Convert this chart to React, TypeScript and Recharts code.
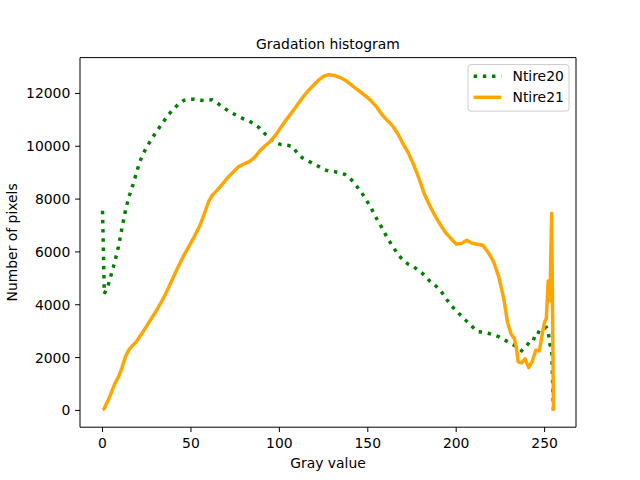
import * as React from "react";
import { LineChart, Line, XAxis, YAxis, ReferenceArea } from "recharts";

// gray levels
const grayValues = [
  0, 1, 2, 3, 5, 7, 9, 11, 13, 15,
  17, 19, 21, 23, 25, 28, 31, 34, 37, 40,
  43, 46, 49, 52, 55, 58, 60, 62, 65, 68,
  71, 74, 77, 80, 83, 86, 89, 92, 95, 98,
  101, 104, 107, 110, 113, 116, 119, 122, 125, 128,
  131, 134, 137, 140, 143, 146, 149, 152, 155, 158,
  161, 164, 167, 170, 173, 176, 179, 182, 185, 188,
  191, 194, 197, 200, 203, 206, 209, 212, 215, 218,
  221, 224, 227, 229, 231, 233, 234, 235, 237, 239,
  241, 243, 245, 247, 249, 250, 251, 252, 253, 254,
  255,
];

const ntire20 = [
  7560, 4420, 4550, 4700, 5160, 5640, 6200, 6910, 7580, 8100,
  8500, 8950, 9400, 9720, 9970, 10300, 10600, 10890, 11170, 11410,
  11590, 11740, 11780, 11780, 11740, 11725, 11745, 11755, 11630, 11480,
  11340, 11230, 11125, 11030, 10950, 10840, 10680, 10460, 10280, 10130,
  10060, 10040, 10005, 9760, 9560, 9450, 9350, 9245, 9130, 9055,
  9040, 8995, 8935, 8790, 8545, 8300, 7980, 7650, 7260, 6910,
  6540, 6215, 5910, 5680, 5530, 5432, 5285, 5120, 4900, 4735,
  4555, 4260, 3975, 3770, 3570, 3370, 3175, 2985, 2965, 2920,
  2860, 2790, 2685, 2605, 2530, 2460, 2410, 2355, 2260, 2390,
  2550, 2740, 2700, 3030, 3080, 3110, 3140, 3000, 2500, 2300,
  0,
];

const ntire21 = [
  20, 70, 230, 360, 680, 1020, 1260, 1620, 2040, 2300,
  2460, 2590, 2790, 2990, 3200, 3520, 3840, 4190, 4600, 5040,
  5470, 5870, 6230, 6590, 6990, 7525, 7910, 8140, 8350, 8580,
  8830, 9030, 9230, 9330, 9420, 9580, 9830, 10020, 10190, 10430,
  10730, 11010, 11280, 11550, 11830, 12080, 12290, 12490, 12650, 12710,
  12680, 12610, 12510, 12360, 12200, 12050, 11890, 11710, 11490, 11200,
  10980, 10770, 10470, 10090, 9740, 9290, 8770, 8190, 7760, 7370,
  7030, 6730, 6510, 6300, 6320, 6440, 6330, 6290, 6250, 5990,
  5650, 5070, 4200, 3340, 2900, 2700, 2400, 1850, 1800, 1950,
  1620, 1850, 2280, 2250, 3000, 3350, 3490, 4900, 4150, 7460,
  0,
];

const xTicks = [0, 50, 100, 150, 200, 250];
const yTicks = [0, 2000, 4000, 6000, 8000, 10000, 12000];
const seriesNames = ["Ntire20", "Ntire21"];

const data = grayValues.map((g, i) => ({
  gray: g,
  ntire20: ntire20[i],
  ntire21: ntire21[i],
}));

const FONT = "DejaVu Sans";
const FS = 13.9;
const X_DOMAIN: [number, number] = [-12.75, 267.75];
const Y_DOMAIN: [number, number] = [-636, 13356];

export default function App() {
  const tick = { fill: "#000", fontSize: FS, fontFamily: FONT };
  return (
    <div style={{ position: "absolute", left: 0, top: 0, width: 640, height: 480, background: "#fff" }}>
      <LineChart
        width={640}
        height={480}
        data={data}
        margin={{ top: 57.6, right: 64, bottom: 0, left: 0 }}
      >
        <XAxis
          dataKey="gray"
          type="number"
          domain={X_DOMAIN}
          ticks={xTicks}
          allowDataOverflow
          height={52.8}
          tick={tick}
          tickLine={{ stroke: "#000" }}
          tickSize={4.86}
          tickMargin={6}
          axisLine={false}
        />
        <YAxis
          type="number"
          domain={Y_DOMAIN}
          ticks={yTicks}
          allowDataOverflow
          width={80}
          tick={tick}
          tickLine={{ stroke: "#000" }}
          tickSize={4.86}
          tickMargin={4.86}
          axisLine={false}
        />
        <Line
          dataKey="ntire20"
          name={seriesNames[0]}
          type="linear"
          stroke="#008000"
          strokeWidth={3.47}
          strokeDasharray="3.47 5.73"
          dot={false}
          isAnimationActive={false}
        />
        <Line
          dataKey="ntire21"
          name={seriesNames[1]}
          type="linear"
          stroke="#ffa500"
          strokeWidth={3.47}
          strokeLinejoin="round"
          dot={false}
          isAnimationActive={false}
        />
        <ReferenceArea
          x1={X_DOMAIN[0]}
          x2={X_DOMAIN[1]}
          y1={Y_DOMAIN[0]}
          y2={Y_DOMAIN[1]}
          fill="none"
          stroke="#000"
          strokeWidth={1}
          ifOverflow="extendDomain"
        />
      </LineChart>

      {/* title, axis labels and legend */}
      <svg
        width={640}
        height={480}
        style={{ position: "absolute", left: 0, top: 0, pointerEvents: "none" }}
        fontFamily={FONT}
        fontSize={FS}
      >
        <text x={328} y={49.3} textAnchor="middle" fill="#000">Gradation histogram</text>
        <text x={328} y={467.5} textAnchor="middle" fill="#000">Gray value</text>
        <text x={17.4} y={242.4} textAnchor="middle" fill="#000" transform="rotate(-90 17.4 242.4)">
          Number of pixels
        </text>

        <rect x={468} y={64.6} width={101} height={46.5} rx={2.8} fill="#fff" fillOpacity={0.8} stroke="#cccccc" strokeWidth={1} />
        <line x1={473.6} y1={76.3} x2={501.4} y2={76.3} stroke="#008000" strokeWidth={3.47} strokeDasharray="3.47 5.73" />
        <text x={512.5} y={81.3} fill="#000">{seriesNames[0]}</text>
        <line x1={473.6} y1={97.3} x2={501.4} y2={97.3} stroke="#ffa500" strokeWidth={3.47} />
        <text x={512.5} y={102.3} fill="#000">{seriesNames[1]}</text>
      </svg>
    </div>
  );
}
